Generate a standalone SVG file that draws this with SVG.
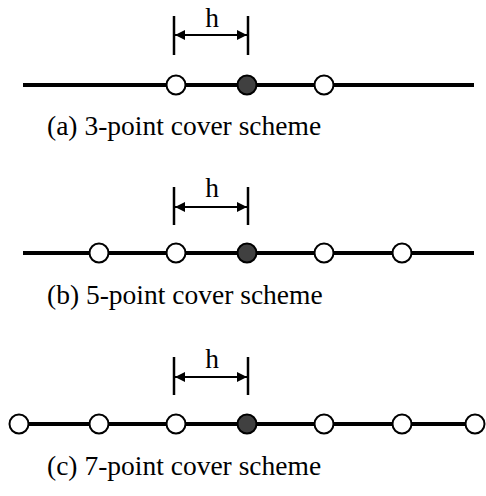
<svg xmlns="http://www.w3.org/2000/svg" width="486" height="496" viewBox="0 0 486 496">
<defs>
<style>
.axis{stroke:#000;stroke-width:4;fill:none}
.tick{stroke:#000;stroke-width:2.5;fill:none}
.dim{stroke:#000;stroke-width:2;fill:none}
.pt{fill:#fff;stroke:#000;stroke-width:2}
.ctr{fill:#404040;stroke:#000;stroke-width:2}
text{font-family:"Liberation Serif","Times New Roman",serif;font-size:27.5px;fill:#000}
</style>
<marker id="ah" viewBox="0 0 10 10" refX="10" refY="5" markerWidth="11" markerHeight="10" markerUnits="userSpaceOnUse" orient="auto-start-reverse">
<path d="M0,0 L10,5 L0,10 Z" fill="#000"/>
</marker>
</defs>
<g id="connectors">
<line class="axis" x1="23" y1="85" x2="474" y2="85"/>
<line class="axis" x1="23" y1="253" x2="474" y2="253"/>
<line class="axis" x1="19" y1="424" x2="475" y2="424"/>
<line class="tick" x1="174" y1="16" x2="174" y2="55"/>
<line class="tick" x1="248" y1="16" x2="248" y2="55"/>
<line class="dim" x1="175" y1="35" x2="247" y2="35" marker-start="url(#ah)" marker-end="url(#ah)"/>
<line class="tick" x1="174" y1="187" x2="174" y2="225"/>
<line class="tick" x1="248" y1="187" x2="248" y2="225"/>
<line class="dim" x1="175" y1="207" x2="247" y2="207" marker-start="url(#ah)" marker-end="url(#ah)"/>
<line class="tick" x1="174" y1="357" x2="174" y2="395"/>
<line class="tick" x1="248" y1="357" x2="248" y2="395"/>
<line class="dim" x1="175" y1="377" x2="247" y2="377" marker-start="url(#ah)" marker-end="url(#ah)"/>
</g>
<g id="row-a">
<circle class="pt" cx="176" cy="85" r="9.5"/>
<circle class="ctr" cx="247" cy="85" r="9.5"/>
<circle class="pt" cx="324" cy="85" r="9.5"/>
<text x="212" y="27" text-anchor="middle">h</text>
<text x="47" y="135">(a) 3-point cover scheme</text>
</g>
<g id="row-b">
<circle class="pt" cx="99" cy="253" r="9.5"/>
<circle class="pt" cx="176" cy="253" r="9.5"/>
<circle class="ctr" cx="247" cy="253" r="9.5"/>
<circle class="pt" cx="324" cy="253" r="9.5"/>
<circle class="pt" cx="402" cy="253" r="9.5"/>
<text x="212" y="197" text-anchor="middle">h</text>
<text x="47" y="304">(b) 5-point cover scheme</text>
</g>
<g id="row-c">
<circle class="pt" cx="19" cy="424" r="9.5"/>
<circle class="pt" cx="99" cy="424" r="9.5"/>
<circle class="pt" cx="176" cy="424" r="9.5"/>
<circle class="ctr" cx="247" cy="424" r="9.5"/>
<circle class="pt" cx="324" cy="424" r="9.5"/>
<circle class="pt" cx="402" cy="424" r="9.5"/>
<circle class="pt" cx="475" cy="424" r="9.5"/>
<text x="212" y="368" text-anchor="middle">h</text>
<text x="47" y="475">(c) 7-point cover scheme</text>
</g>
</svg>
